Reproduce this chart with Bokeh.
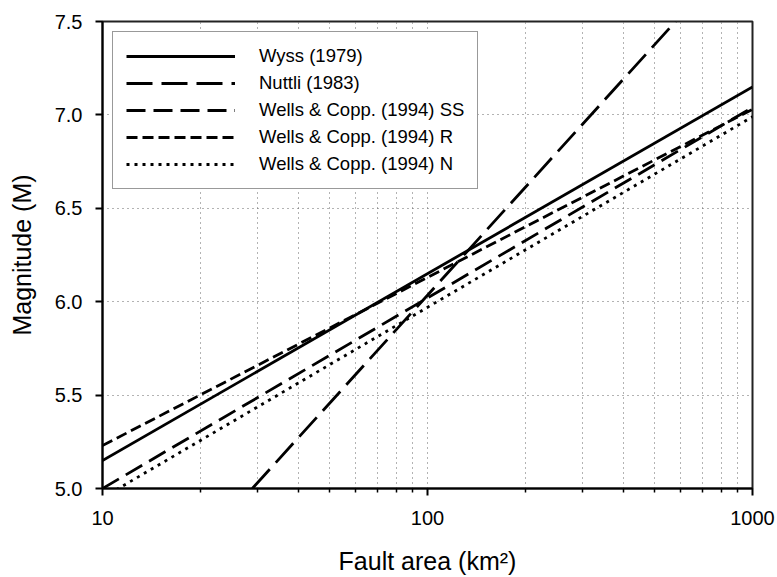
from bokeh.plotting import figure
from bokeh.models import Range1d, FixedTicker, PrintfTickFormatter, Legend, LegendItem
from bokeh.embed import file_html
from bokeh.resources import INLINE

# ---- data ----
area_ends = [10, 1000]                 # fault area (km^2)
wyss_m = [5.15, 7.15]                  # Wyss (1979)
nuttli_area = [28.9, 580]              # Nuttli (1983)
nuttli_m = [5.0, 7.5]
wc_ss_m = [5.00, 7.04]                 # Wells & Copp. (1994) SS
wc_r_m = [5.23, 7.03]                  # Wells & Copp. (1994) R
wc_n_m = [4.95, 6.99]                  # Wells & Copp. (1994) N

labels = ["Wyss (1979)", "Nuttli (1983)", "Wells & Copp. (1994) SS",
          "Wells & Copp. (1994) R", "Wells & Copp. (1994) N"]
x_major = [10, 100, 1000]
x_minor = [20, 30, 40, 50, 60, 70, 80, 90, 200, 300, 400, 500, 600, 700, 800, 900]
y_major = [5.0, 5.5, 6.0, 6.5, 7.0, 7.5]
x_title = "Fault area (km\u00b2)"
y_title = "Magnitude (M)"

FONT = "Liberation Sans"

p = figure(width=777, height=577, x_axis_type="log",
           x_range=Range1d(10, 1000), y_range=Range1d(5.0, 7.5),
           output_backend="svg", toolbar_location=None,
           min_border_left=102, min_border_right=25,
           min_border_top=21, min_border_bottom=89)
p.background_fill_color = "white"
p.border_fill_color = "white"
p.outline_line_color = "#222222"
p.outline_line_width = 2

lw = 2.8
r1 = p.line(area_ends, wyss_m, line_color="black", line_width=lw)
r2 = p.line(nuttli_area, nuttli_m, line_color="black", line_width=lw, line_dash="26 9")
r3 = p.line(area_ends, wc_ss_m, line_color="black", line_width=lw, line_dash="19 8")
r4 = p.line(area_ends, wc_r_m, line_color="black", line_width=lw, line_dash="11 5")
r5 = p.line(area_ends, wc_n_m, line_color="black", line_width=lw, line_dash="3 5")

# axes
xa = p.xaxis[0]
xa.ticker = FixedTicker(ticks=x_major, minor_ticks=x_minor)
xa.formatter = PrintfTickFormatter(format="%d")
ya = p.yaxis[0]
ya.ticker = FixedTicker(ticks=y_major)
ya.formatter = PrintfTickFormatter(format="%.1f")

for ax in (xa, ya):
    ax.axis_line_color = "black"
    ax.axis_line_width = 2
    ax.major_tick_line_color = "black"
    ax.major_tick_line_width = 2
    ax.major_tick_out = 7
    ax.major_tick_in = 0
    ax.minor_tick_line_color = "black"
    ax.minor_tick_line_width = 1.5
    ax.minor_tick_out = 4
    ax.minor_tick_in = 0
    ax.major_label_text_font = FONT
    ax.major_label_text_font_size = "20px"
    ax.major_label_text_color = "black"
    ax.axis_label_text_font = FONT
    ax.axis_label_text_font_size = "25px"
    ax.axis_label_text_font_style = "normal"
    ax.axis_label_text_color = "black"

ya.axis_label = y_title
ya.major_label_standoff = 13
ya.axis_label_standoff = 16
xa.axis_label = x_title
xa.major_label_standoff = 15
xa.axis_label_standoff = 19

for g in (p.xgrid[0], p.ygrid[0]):
    g.grid_line_color = "#666666"
    g.grid_line_width = 1
    g.grid_line_dash = "1 4"
p.xgrid[0].ticker = FixedTicker(ticks=x_major, minor_ticks=x_minor)
p.xgrid[0].minor_grid_line_color = "#666666"
p.xgrid[0].minor_grid_line_dash = "1 4"
p.xgrid[0].minor_grid_line_width = 1
p.ygrid[0].ticker = FixedTicker(ticks=y_major)

legend = Legend(items=[LegendItem(label=l, renderers=[r]) for l, r in
                       zip(labels, [r1, r2, r3, r4, r5])],
                location="top_left", margin=10, padding=13, spacing=5,
                glyph_width=109, glyph_height=18, label_height=18,
                label_standoff=24, label_text_font=FONT,
                label_text_font_size="18.5px", label_text_color="black",
                border_line_color="#333333", border_line_width=1,
                background_fill_color="white", background_fill_alpha=1.0)
p.add_layout(legend)

open("out.html", "w").write(file_html(p, INLINE))
